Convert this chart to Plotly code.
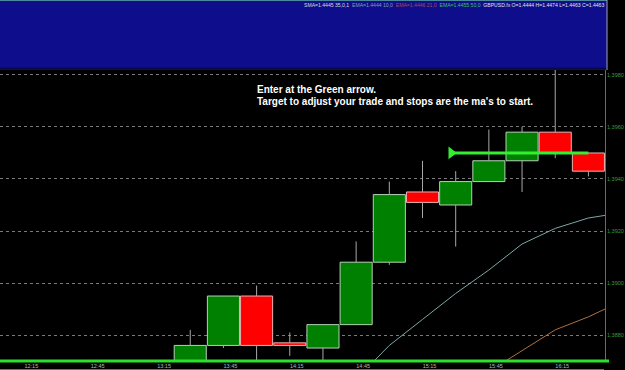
import plotly.graph_objects as go

day = "2013-05-01 "
times = ["13:30", "13:45", "14:00", "14:15", "14:30", "14:45", "15:00",
         "15:15", "15:30", "15:45", "16:00", "16:15", "16:30"]
opens = [1.3868, 1.3876, 1.3895, 1.3877, 1.3875, 1.3884, 1.3908,
         1.3935, 1.3930, 1.3939, 1.3947, 1.3958, 1.3950]
highs = [1.3882, 1.3895, 1.3899, 1.3881, 1.3884, 1.3916, 1.3939,
         1.3947, 1.3943, 1.3959, 1.3960, 1.3986, 1.3950]
lows = [1.3862, 1.3875, 1.3864, 1.3872, 1.3866, 1.3884, 1.3907,
        1.3925, 1.3914, 1.3939, 1.3935, 1.3948, 1.3941]
closes = [1.3876, 1.3895, 1.3876, 1.3876, 1.3884, 1.3908, 1.3934,
          1.3931, 1.3939, 1.3947, 1.3958, 1.3950, 1.3943]

ma_fast_times = ["14:45", "15:00", "15:15", "15:30", "15:45", "16:00", "16:15", "16:30", "16:37:30"]
ma_fast = [1.3863, 1.3876, 1.3886, 1.3896, 1.3905, 1.3915, 1.3921, 1.3925, 1.3926]
ma_slow_times = ["15:45", "16:00", "16:15", "16:30", "16:37:30"]
ma_slow = [1.3866, 1.3874, 1.3882, 1.3887, 1.3890]

y_ticks = [1.3880, 1.3900, 1.3920, 1.3940, 1.3960, 1.3980]
y_range = [1.38704, 1.39819]
x_range = ["12:04", "16:37:30"]

arrow_start = "15:28"
arrow_end = "16:30"
arrow_price = 1.3950

note_lines = ["Enter at the Green arrow.",
              "Target to adjust your trade and stops are the ma's to start."]

legend_texts = ["SMA=1.4445 35,0,1", "EMA=1.4444 10,0", "EMA=1.4446 21,0",
                "EMA=1.4455 50,0", "GBPUSD.fx O=1.4444 H=1.4474 L=1.4463 C=1.4463"]
legend_colors = ["#d8d8d8", "#8a9ab8", "#b04848", "#40c050", "#e0e0e0"]

def t(s):
    return day + s

W, H = 625, 370
ML, MR, MT, MB = 0, 20, 70, 10
PW, PH = W - ML - MR, H - MT - MB

x = [t(s) for s in times]
up = [c >= o for o, c in zip(opens, closes)]
body_lo = [min(o, c) for o, c in zip(opens, closes)]
body_hi = [max(o, c) for o, c in zip(opens, closes)]

wx, wy = [], []
for xi, lo, hi, bl, bh in zip(x, lows, highs, body_lo, body_hi):
    if hi > bh:
        wx += [xi, xi, None]
        wy += [bh, hi, None]
    if lo < bl:
        wx += [xi, xi, None]
        wy += [lo, bl, None]

fig = go.Figure()
fig.add_trace(go.Bar(
    x=x, y=[h - l for h, l in zip(body_hi, body_lo)], base=body_lo,
    width=[870000] * len(x),
    marker=dict(color=["#008000" if u else "#ff0000" for u in up],
                line=dict(color=["#b4d2b4" if u else "#e6b4b4" for u in up], width=1)),
    showlegend=False, hoverinfo="skip"))
fig.add_trace(go.Scatter(x=wx, y=wy, mode="lines", line=dict(color="#a8a8a8", width=1),
                         showlegend=False, hoverinfo="skip"))
fig.add_trace(go.Scatter(x=[t(s) for s in ma_fast_times], y=ma_fast, mode="lines",
                         line=dict(color="#7fa6a6", width=1), showlegend=False, hoverinfo="skip"))
fig.add_trace(go.Scatter(x=[t(s) for s in ma_slow_times], y=ma_slow, mode="lines",
                         line=dict(color="#b0703a", width=1), showlegend=False, hoverinfo="skip"))
fig.add_trace(go.Scatter(x=[t(arrow_start), t(arrow_end)], y=[arrow_price, arrow_price], mode="lines",
                         line=dict(color="#33ee33", width=3), showlegend=False, hoverinfo="skip"))
fig.add_trace(go.Scatter(x=[t(arrow_start)], y=[arrow_price], mode="markers",
                         marker=dict(symbol="triangle-right", size=11, color="#33ee33"),
                         showlegend=False, hoverinfo="skip", cliponaxis=False))

shapes = [
    dict(type="rect", xref="paper", yref="paper", x0=0, x1=607 / PW, y0=1, y1=1 + MT / PH,
         fillcolor="#0e0e8c", line=dict(width=0), layer="below"),
    dict(type="line", xref="paper", yref="paper", x0=0, x1=607 / PW, y0=1 + (MT - 0.5) / PH, y1=1 + (MT - 0.5) / PH,
         line=dict(color="#4a8a9a", width=1)),
    dict(type="line", xref="paper", yref="paper", x0=0, x1=607 / PW, y0=1 + 1.5 / PH, y1=1 + 1.5 / PH,
         line=dict(color="#08084a", width=2)),
    dict(type="line", xref="paper", yref="paper", x0=607 / PW, x1=607 / PW, y0=1, y1=1 + MT / PH,
         line=dict(color="#a0a0b0", width=1)),
    dict(type="line", xref="paper", yref="paper", x0=1 + 0.5 / PW, x1=1 + 0.5 / PW, y0=0, y1=1,
         line=dict(color="#3c8c3c", width=1)),
    dict(type="line", xref="paper", yref="paper", x0=0, x1=609 / PW, y0=-1 / PH, y1=-1 / PH,
         line=dict(color="#2ee02e", width=3)),
    dict(type="line", xref="paper", yref="paper", x0=0, x1=604 / PW, y0=-9.5 / PH, y1=-9.5 / PH,
         line=dict(color="#707070", width=1)),
]

sep = "\u00a0\u00a0"
legend_html = sep.join(f'<span style="color:{c}">{s.replace(" ", chr(160))}</span>'
                       for s, c in zip(legend_texts, legend_colors))
annotations = [dict(xref="paper", yref="paper", x=605 / PW, y=1 + (MT - 5) / PH,
                    xanchor="right", yanchor="middle", text=legend_html, showarrow=False,
                    font=dict(family="Liberation Sans, Arial", size=5.1, color="#e0e0e0"), borderpad=0)]
for i, line in enumerate(note_lines):
    yc = 89 + i * 12.5
    annotations.append(dict(xref="paper", yref="paper", x=256 / PW, y=1 - (yc - MT) / PH,
                            xanchor="left", yanchor="middle", text=f"<b>{line}</b>", showarrow=False,
                            font=dict(family="Liberation Sans, Arial", size=10, color="#ffffff"),
                            borderpad=0))

fig.update_layout(
    width=W, height=H,
    margin=dict(l=ML, r=MR, t=MT, b=MB),
    paper_bgcolor="#000000", plot_bgcolor="#000000",
    shapes=shapes, annotations=annotations,
    xaxis=dict(type="date", range=[t(x_range[0]), t(x_range[1])],
               showgrid=False, zeroline=False, showline=False, ticks="",
               tick0=t("12:15"), dtick=1800000, tickformat="%H:%M",
               tickfont=dict(family="Liberation Sans, Arial", size=5.5, color="#b8b8b8"),
               ticklabelshift=7, ticklabelstandoff=1, fixedrange=True),
    yaxis=dict(side="right", range=y_range, tickvals=y_ticks, ticktext=[f"{v:.4f}" for v in y_ticks],
               showgrid=True, gridcolor="#7a7a7a", gridwidth=1, griddash="dot", zeroline=False,
               showline=False, ticks="", ticklabelstandoff=1,
               tickfont=dict(family="Liberation Sans, Arial", size=5.5, color="#3c9c3c"), fixedrange=True),
    font=dict(family="Liberation Sans, Arial"),
)

fig.write_html("out.html", config=dict(displayModeBar=False))
